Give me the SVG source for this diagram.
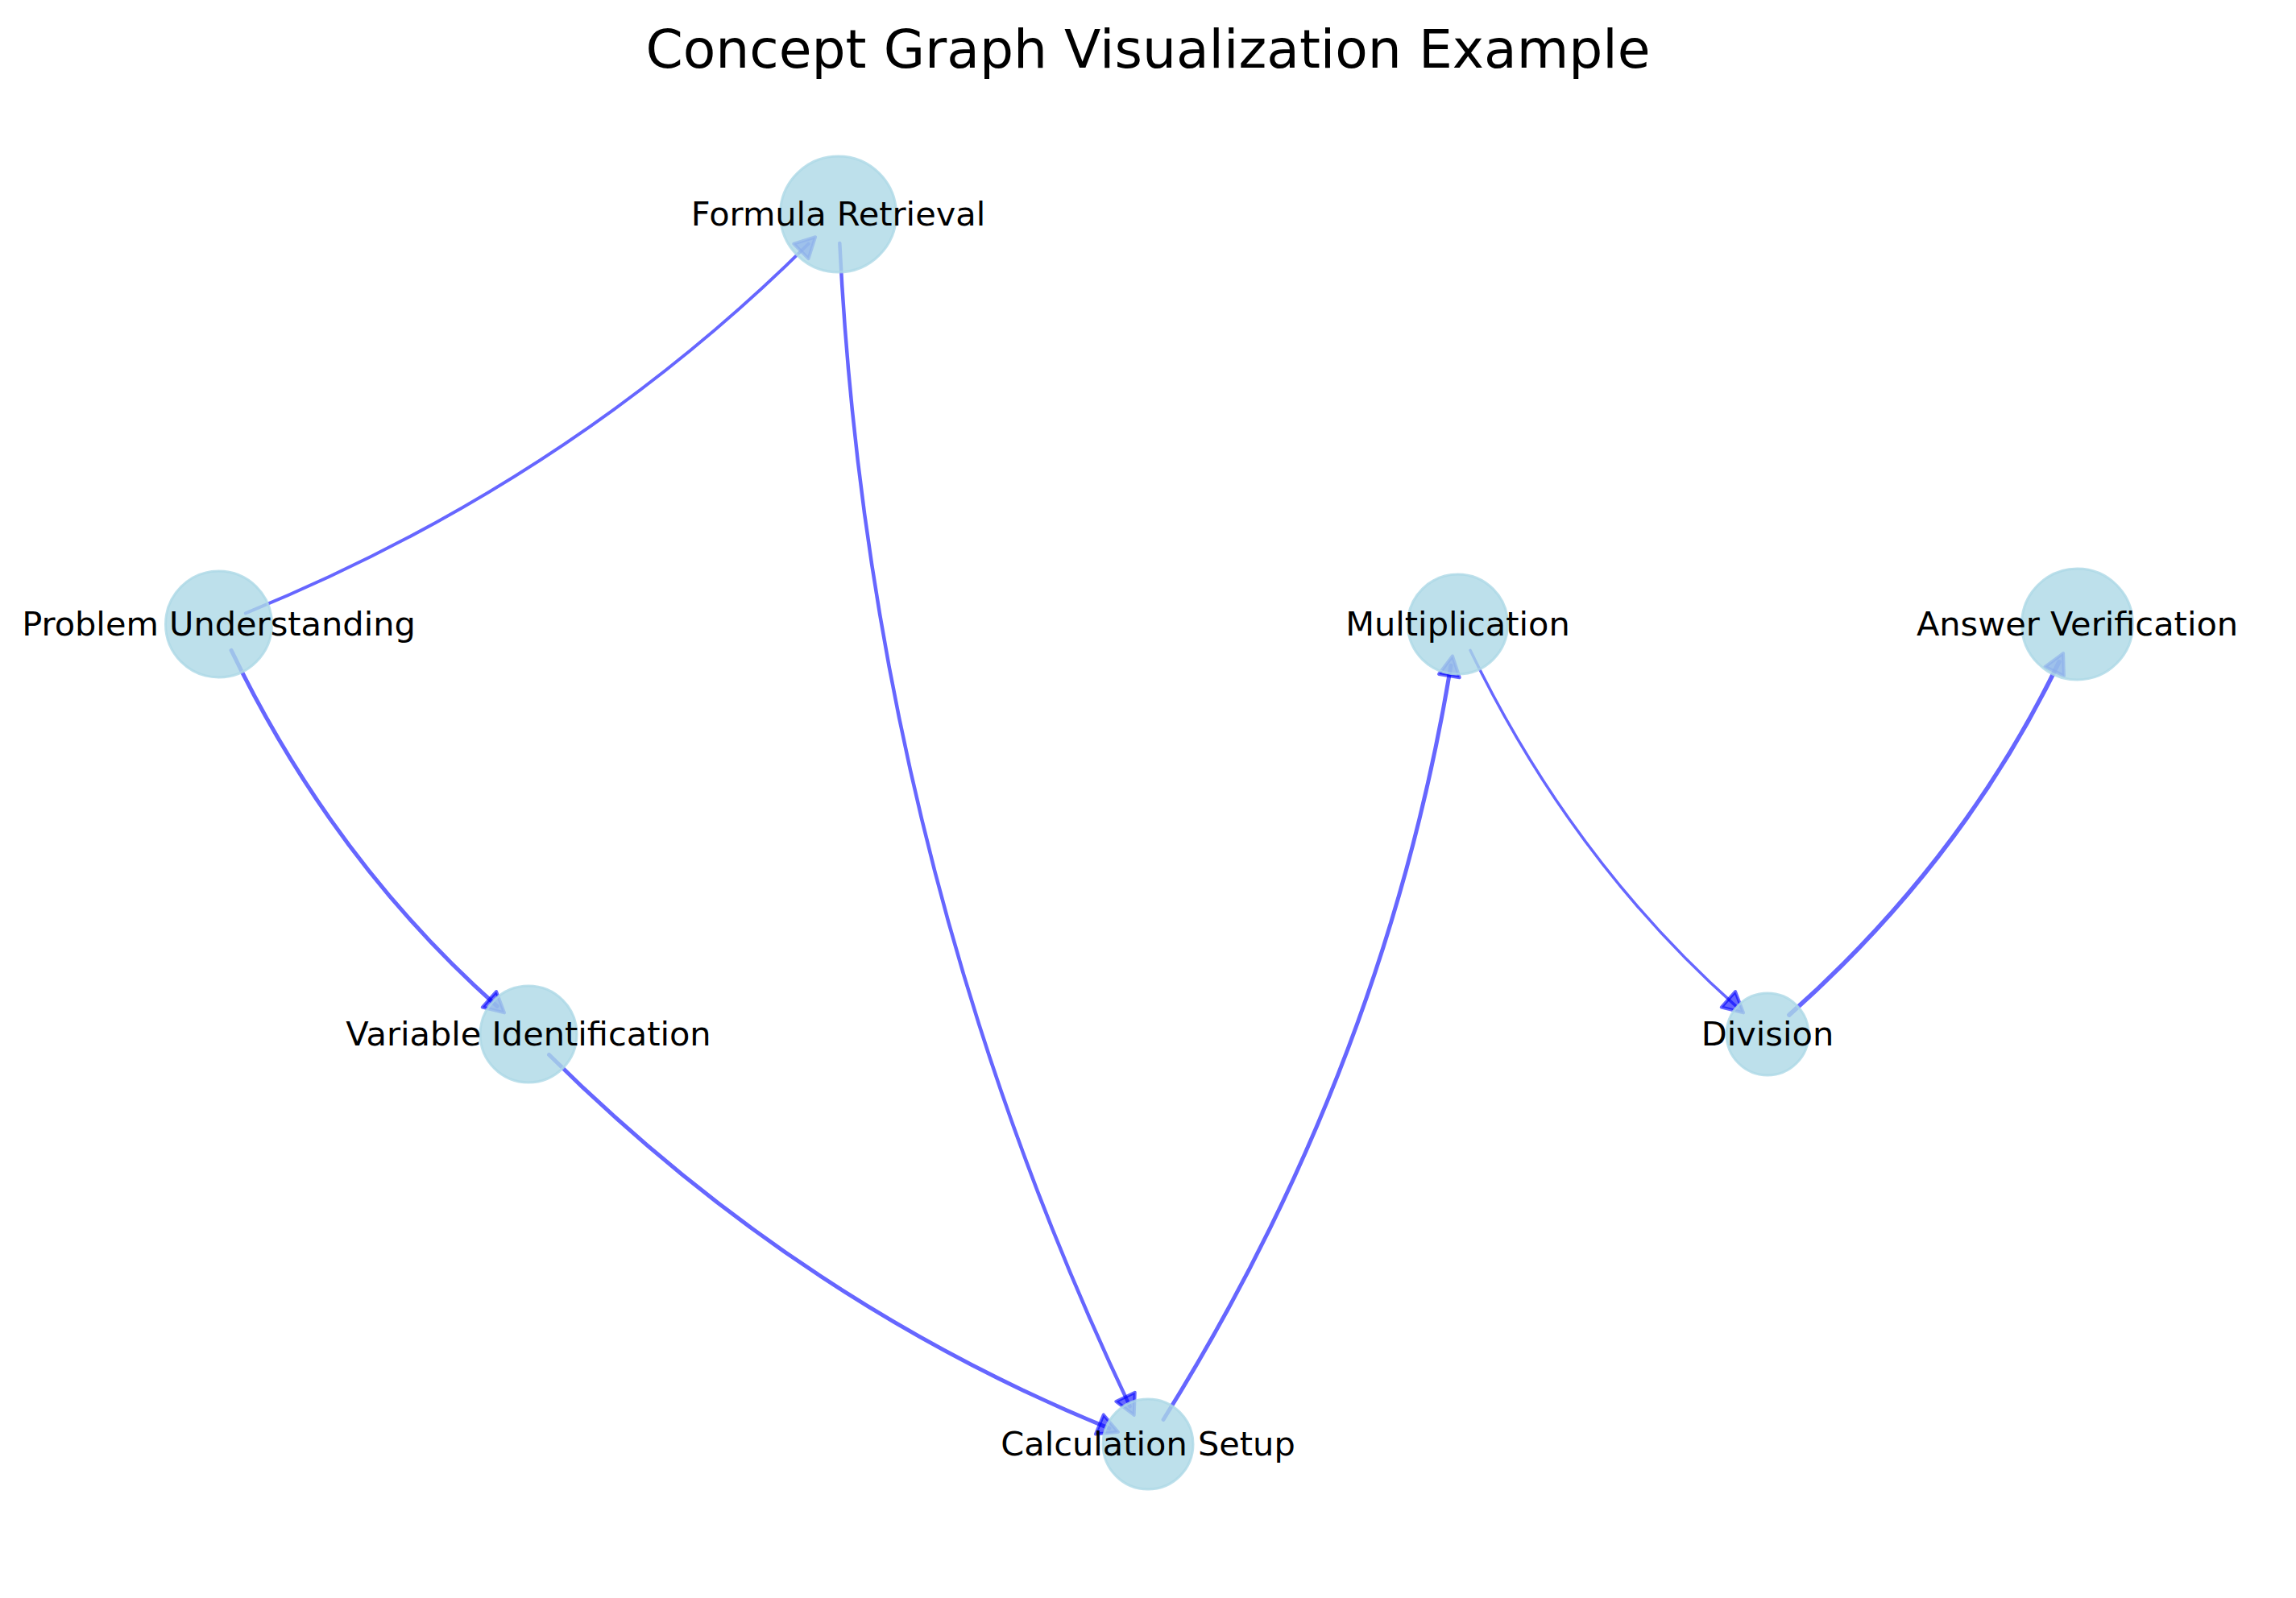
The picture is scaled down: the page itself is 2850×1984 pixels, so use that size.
<svg xmlns="http://www.w3.org/2000/svg" width="2850" height="1984" viewBox="0 0 2850 1984">
<style>
.edge{fill:none;stroke:#0000ff;stroke-opacity:0.6;stroke-linecap:round;marker-end:url(#arrow)}
.node circle{fill:#ADD8E6;fill-opacity:0.8;stroke:#ADD8E6;stroke-opacity:0.8;stroke-width:3}
.node text{font-family:"DejaVu Sans","Liberation Sans",sans-serif;font-size:41.5px;fill:#000;text-anchor:middle}
.title{font-family:"DejaVu Sans","Liberation Sans",sans-serif;font-size:66.3px;fill:#000;text-anchor:middle}
</style>
<defs>
<marker id="arrow" markerUnits="userSpaceOnUse" markerWidth="40" markerHeight="40" viewBox="-20 -20 40 40" refX="0" refY="0" orient="auto" overflow="visible">
<path d="M12,0 L-13,-13 L-13,13 Z" fill="#0000ff" fill-opacity="0.6" stroke="#0000ff" stroke-opacity="0.6" stroke-width="4" stroke-linejoin="round"/>
</marker>
</defs>
<rect x="0" y="0" width="2850" height="1984" fill="#ffffff"/>
<text class="title" x="1425" y="84">Concept Graph Visualization Example</text>
<g id="connectors">
<path class="edge" style="stroke-width:4" d="M304.8,761.4 Q706.9,597.4 1003.6,302.7"/>
<path class="edge" style="stroke-width:4.5" d="M1042.3,302 Q1080.05,1067.95 1402.6,1746.1"/>
<path class="edge" style="stroke-width:5" d="M287.1,807.4 Q412.85,1067.95 617.1,1249.4"/>
<path class="edge" style="stroke-width:5" d="M681.5,1309.4 Q989.6,1615.4 1376.9,1773.4"/>
<path class="edge" style="stroke-width:5" d="M1444.1,1762.5 Q1719.05,1322.45 1801,826.3"/>
<path class="edge" style="stroke-width:3.5" d="M1825.1,807.4 Q1950.85,1067.95 2155.1,1249.4"/>
<path class="edge" style="stroke-width:5.5" d="M2220.9,1260.1 Q2437.15,1067.95 2555.9,821.8"/>
</g>
<g id="node-formula-retrieval" class="node"><circle cx="1040.5" cy="266" r="72"/><text x="1040.5" y="279.5">Formula Retrieval</text></g>
<g id="node-problem-understanding" class="node"><circle cx="271.5" cy="775" r="66"/><text x="271.5" y="788.5">Problem Understanding</text></g>
<g id="node-multiplication" class="node"><circle cx="1809.5" cy="775" r="62"/><text x="1809.5" y="788.5">Multiplication</text></g>
<g id="node-answer-verification" class="node"><circle cx="2578.5" cy="775" r="69"/><text x="2578.5" y="788.5">Answer Verification</text></g>
<g id="node-variable-identification" class="node"><circle cx="656" cy="1284" r="60"/><text x="656" y="1297.5">Variable Identification</text></g>
<g id="node-division" class="node"><circle cx="2194" cy="1284" r="51"/><text x="2194" y="1297.5">Division</text></g>
<g id="node-calculation-setup" class="node"><circle cx="1425" cy="1793" r="56"/><text x="1425" y="1806.5">Calculation Setup</text></g>
</svg>
